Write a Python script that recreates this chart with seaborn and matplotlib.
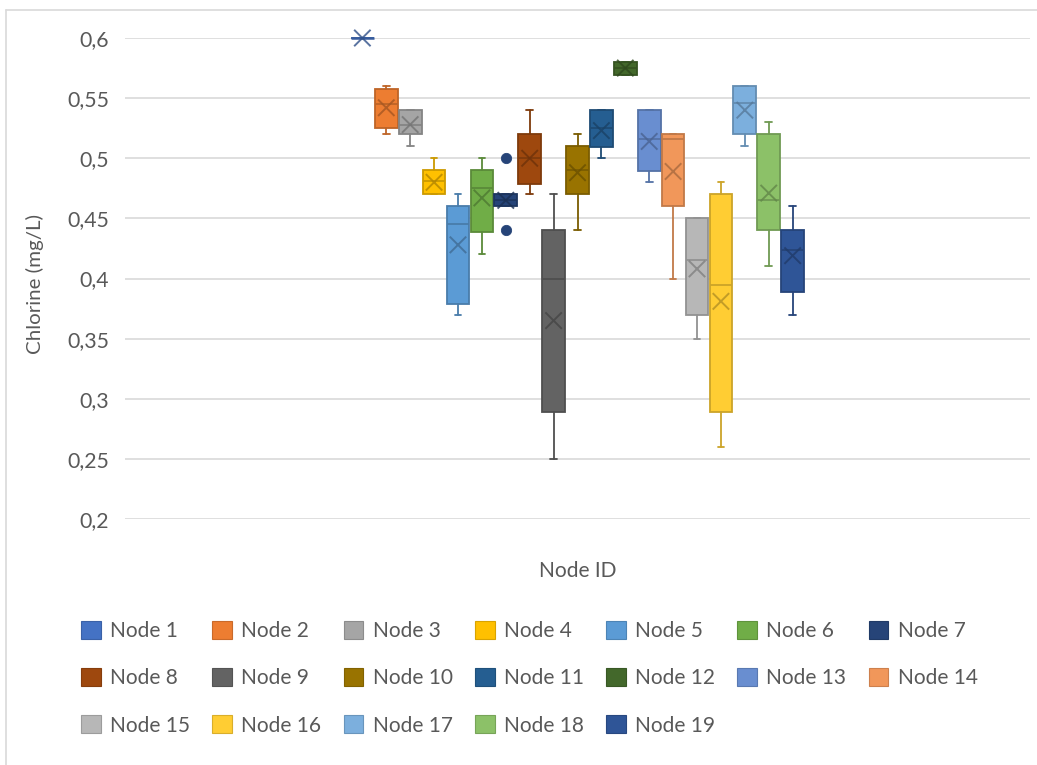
import numpy as np
import matplotlib
matplotlib.use("Agg")
import matplotlib.pyplot as plt
import matplotlib.colors as mcolors
from matplotlib.patches import Patch
from matplotlib.lines import Line2D
import seaborn as sns
import pandas as pd

# ---- data ----
nodes = [f"Node {i}" for i in range(1, 20)]
whisk_lo = [0.60, 0.520, 0.510, 0.470, 0.370, 0.420, 0.460, 0.470, 0.250, 0.440,
            0.500, 0.569, 0.480, 0.400, 0.350, 0.260, 0.510, 0.410, 0.370]
q1 = [0.60, 0.525, 0.520, 0.470, 0.379, 0.439, 0.460, 0.479, 0.289, 0.470,
      0.509, 0.569, 0.489, 0.460, 0.370, 0.289, 0.520, 0.440, 0.389]
median = [0.60, 0.545, 0.528, 0.481, 0.445, 0.475, 0.465, 0.500, 0.400, 0.490,
          0.525, 0.575, 0.516, 0.516, 0.415, 0.395, 0.546, 0.465, 0.424]
q3 = [0.60, 0.558, 0.540, 0.490, 0.460, 0.490, 0.470, 0.520, 0.440, 0.510,
      0.540, 0.580, 0.540, 0.520, 0.450, 0.470, 0.560, 0.520, 0.440]
whisk_hi = [0.60, 0.560, 0.540, 0.500, 0.470, 0.500, 0.470, 0.540, 0.470, 0.520,
            0.540, 0.580, 0.540, 0.520, 0.450, 0.480, 0.560, 0.530, 0.460]
mean = [0.60, 0.542, 0.528, 0.480, 0.428, 0.467, 0.465, 0.500, 0.365, 0.488,
        0.523, 0.575, 0.514, 0.489, 0.408, 0.381, 0.540, 0.471, 0.419]
outlier_node = ["Node 7", "Node 7"]
outlier_val = [0.50, 0.44]

colors = ["#4472C4", "#ED7D31", "#A5A5A5", "#FFC000", "#5B9BD5", "#70AD47",
          "#264478", "#9E480E", "#636363", "#997300", "#255E91", "#43682B",
          "#698ED0", "#F1975A", "#B7B7B7", "#FFCD33", "#7CAFDD", "#8CC168",
          "#2F5597"]

yticks = [0.2, 0.25, 0.3, 0.35, 0.4, 0.45, 0.5, 0.55, 0.6]
ytick_labels = ["0,2", "0,25", "0,3", "0,35", "0,4", "0,45", "0,5", "0,55", "0,6"]

# ---- style ----
sns.set_theme(style="white")
plt.rcParams["font.family"] = ["Lato", "DejaVu Sans"]
text_col = "#595959"

fig = plt.figure(figsize=(10.37, 7.65), dpi=100)
ax = fig.add_axes([125 / 1037, 1 - 519 / 765, 905 / 1037, 481 / 765])


def darker(c, f=0.75):
    r, g, b = mcolors.to_rgb(c)
    return (r * f, g * f, b * f)


positions = np.arange(len(nodes))
for i, n in enumerate(nodes):
    st = [dict(whislo=whisk_lo[i], q1=q1[i], med=median[i], q3=q3[i],
               whishi=whisk_hi[i], fliers=[], label=n)]
    c = colors[i]
    dc = darker(c, 0.8)
    ax.bxp(st, positions=[positions[i]], widths=0.95, patch_artist=True,
           showfliers=False, capwidths=[0.28], manage_ticks=False,
           boxprops=dict(facecolor=c, edgecolor=dc, linewidth=1.3),
           medianprops=dict(color=dc, linewidth=1.8 if i == 0 else 1.3),
           whiskerprops=dict(color=dc, linewidth=1.3),
           capprops=dict(color=dc, linewidth=1.3))

# mean markers (X)
mean_df = pd.DataFrame({"pos": positions, "mean": mean, "node": nodes})
sns.scatterplot(data=mean_df, x="pos", y="mean", hue="node",
                palette=[darker(c, 0.7) for c in colors], marker="x",
                s=140, linewidth=1.4, alpha=0.8, legend=False, ax=ax, zorder=5)

# outliers
out_df = pd.DataFrame({"pos": [nodes.index(n) for n in outlier_node],
                       "val": outlier_val, "node": outlier_node})
sns.scatterplot(data=out_df, x="pos", y="val", color=colors[6], s=55,
                edgecolor=colors[6], legend=False, ax=ax, zorder=5)

ax.set_xlim(9 - 18.93, 9 + 18.93)
ax.set_ylim(0.2, 0.6)
ax.set_yticks(yticks)
ax.set_yticklabels(ytick_labels, fontsize=15, color=text_col)
ax.set_xticks([])
ax.tick_params(axis="y", length=0, pad=11.5)
ax.yaxis.grid(True, color="#D9D9D9", linewidth=1.2)
ax.set_axisbelow(True)
for s in ax.spines.values():
    s.set_visible(False)
ax.set_xlabel("")
ax.set_ylabel("")
for art in ax.collections + ax.patches + ax.lines:
    art.set_clip_on(False)

ylab = fig.text(35 / 1037, 1 - 284 / 765, "Chlorine (mg/L)", rotation=90,
                ha="center", va="center", fontsize=15, color=text_col)
xlab = fig.text(578 / 1037, 1 - 571 / 765, "Node ID", ha="center", va="center",
                fontsize=15, color=text_col)

# fit label sizes to the reference pixel extents
fig.canvas.draw()
r = fig.canvas.get_renderer()
h = ylab.get_window_extent(r).height
ylab.set_fontsize(15 * 140 / h)
w = xlab.get_window_extent(r).width
xlab.set_fontsize(15 * 78 / w)
lab55 = [t for t in ax.get_yticklabels() if t.get_text() == "0,55"][0]
w55 = lab55.get_window_extent(r).width
tick_fs = 15 * 42 / w55
ax.set_yticklabels(ytick_labels, fontsize=tick_fs, color=text_col)

# legend: row-major order in a 7 x 3 grid (pad with empty entries)
ncols, nrows = 7, 3
h_rm = [Patch(facecolor=c, edgecolor=darker(c, 0.85), linewidth=0.8)
        for c in colors]
l_rm = list(nodes)
while len(h_rm) < ncols * nrows:
    h_rm.append(Patch(facecolor="none", edgecolor="none"))
    l_rm.append("")
handles, labels = [], []
for col in range(ncols):
    for row in range(nrows):
        k = row * ncols + col
        handles.append(h_rm[k])
        labels.append(l_rm[k])
leg = fig.legend(handles, labels, ncol=ncols, loc="upper left",
                 bbox_to_anchor=(81 / 1037, 1 - 621 / 765), frameon=False,
                 fontsize=15, handlelength=0.95, handleheight=0.95,
                 handletextpad=0.45, columnspacing=1.06, labelspacing=1.3,
                 borderaxespad=0, borderpad=0)
for t in leg.get_texts():
    t.set_color(text_col)

# chart frame lines (top and left)
fig.add_artist(Line2D([6 / 1037, 1], [1 - 10 / 765, 1 - 10 / 765],
                      color="#D9D9D9", linewidth=1.2))
fig.add_artist(Line2D([6 / 1037, 6 / 1037], [0, 1 - 10 / 765],
                      color="#D9D9D9", linewidth=1.2))

fig.savefig("out.png", dpi=100, facecolor="white")
